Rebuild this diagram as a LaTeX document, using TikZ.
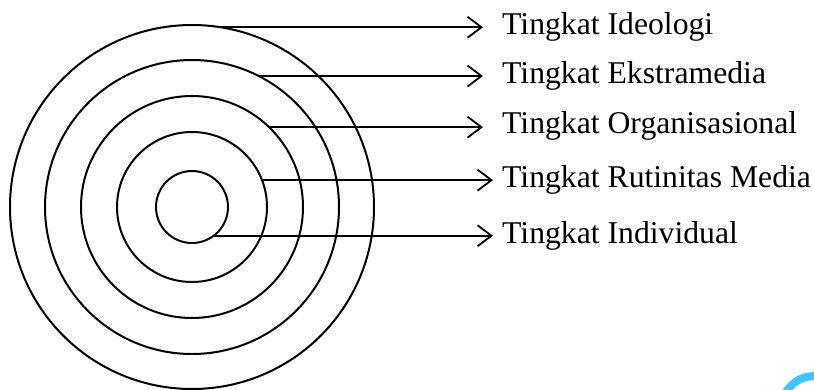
\documentclass[tikz,border=0pt]{standalone}
\usepackage{fontspec}
\setmainfont{Liberation Serif}
\usetikzlibrary{arrows.meta, positioning}
\definecolor{wmblue}{RGB}{60,200,255}

\tikzset{
  ring/.style={draw, circle, line width=2pt, inner sep=0pt, outer sep=0pt},
  lvl/.style={anchor=west, inner sep=0pt, font=\fontsize{31.7}{38}\selectfont},
  pointer/.style={-{Straight Barb[length=14pt,width=21pt]}, line width=1.8pt}
}

\begin{document}
\begin{tikzpicture}[x=1pt,y=-1pt]
\useasboundingbox (0,0) rectangle (814,389);

% Rings
\node[ring, minimum size=364pt] (ideo) at (192,207) {};
\node[ring, minimum size=294pt] (ekstra) at (192,207) {};
\node[ring, minimum size=222pt] (org) at (192,207) {};
\node[ring, minimum size=150pt] (rutin) at (192,207) {};
\node[ring, minimum size=72pt] (indiv) at (192,207) {};

% Labels
\node[lvl] (tIdeo) at (502,27) {Tingkat Ideologi};
\node[lvl] (tEkstra) at (502,76) {Tingkat Ekstramedia};
\node[lvl] (tOrg) at (502,126) {Tingkat Organisasional};
\node[lvl] (tRutin) at (502,180) {Tingkat Rutinitas Media};
\node[lvl] (tIndiv) at (502,236) {Tingkat Individual};

% Arrows
\draw[pointer, shorten >=19pt] (ideo.81.5) -- (ideo.81.5 -| tIdeo.west);
\draw[pointer, shorten >=19pt] (ekstra.63) -- (ekstra.63 -| tEkstra.west);
\draw[pointer, shorten >=19pt] (org.46.9) -- (org.46.9 -| tOrg.west);
\draw[pointer, shorten >=9pt] (rutin.21.1) -- (rutin.21.1 -| tRutin.west);
\draw[pointer, shorten >=9pt] (indiv.-53.7) -- (indiv.-53.7 -| tIndiv.west);

% corner mark
\draw[wmblue, line width=8pt] (786,392) .. controls (795,379) and (805,376) .. (816,376);

\end{tikzpicture}
\end{document}
